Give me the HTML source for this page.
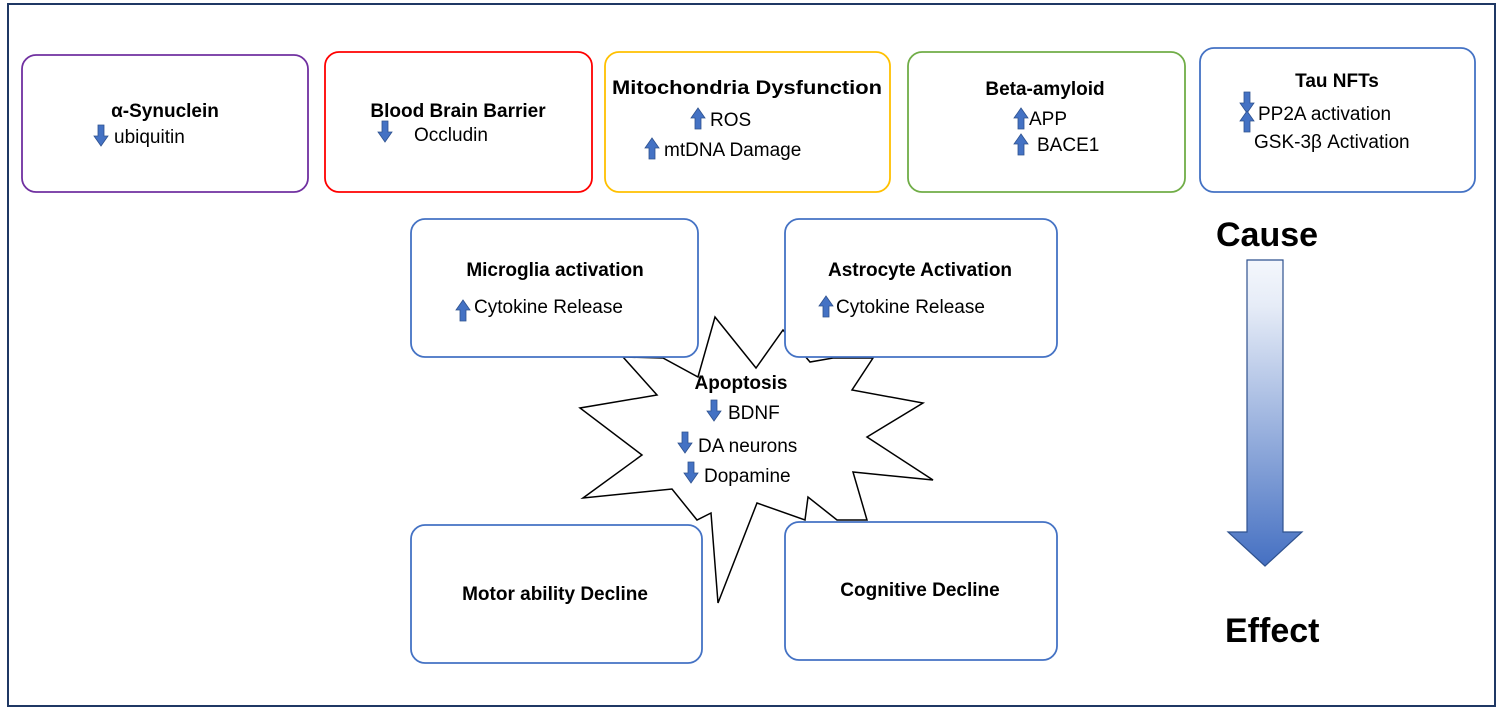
<!DOCTYPE html>
<html><head><meta charset="utf-8"><style>
html,body{margin:0;padding:0;background:#fff;}
svg{display:block;}
text{font-family:"Liberation Sans",sans-serif;fill:#000;}
.t{font-weight:bold;font-size:19px;}
.s{font-size:19px;}
</style></head><body>
<svg width="1500" height="712" viewBox="0 0 1500 712" xmlns="http://www.w3.org/2000/svg">
<defs>
<linearGradient id="ag" x1="0" y1="0" x2="0" y2="1">
<stop offset="0" stop-color="#f4f7fc"/><stop offset="0.15" stop-color="#e6ecf7"/><stop offset="1" stop-color="#4570c2"/>
</linearGradient>
<path id="dn" d="M-3,-11 h6 v11 h4 l-7,10 l-7,-10 h4 z" fill="#4472c4" stroke="#2f528f" stroke-width="0.8"/>
<path id="up" d="M-3,11 h6 v-11 h4 l-7,-10 l-7,10 h4 z" fill="#4472c4" stroke="#2f528f" stroke-width="0.8"/>
</defs>
<rect x="8" y="4" width="1487" height="702" fill="none" stroke="#1f3864" stroke-width="2"/>

<rect x="22" y="55" width="286" height="137" rx="14" fill="#fff" stroke="#7030a0" stroke-width="1.8"/>
<rect x="325" y="52" width="267" height="140" rx="14" fill="#fff" stroke="#ff0000" stroke-width="1.8"/>
<rect x="605" y="52" width="285" height="140" rx="14" fill="#fff" stroke="#ffc000" stroke-width="1.8"/>
<rect x="908" y="52" width="277" height="140" rx="14" fill="#fff" stroke="#70ad47" stroke-width="1.8"/>
<rect x="1200" y="48" width="275" height="144" rx="14" fill="#fff" stroke="#4472c4" stroke-width="1.8"/>

<text class="t" x="165" y="117" text-anchor="middle">α-Synuclein</text>
<use href="#dn" x="101" y="136"/>
<text class="s" x="114" y="143">ubiquitin</text>

<text class="t" x="458" y="117" text-anchor="middle">Blood Brain Barrier</text>
<use href="#dn" x="385" y="132"/>
<text class="s" x="414" y="141">Occludin</text>

<text class="t" x="747" y="94" text-anchor="middle" textLength="270" lengthAdjust="spacingAndGlyphs">Mitochondria Dysfunction</text>
<use href="#up" x="698" y="118"/>
<text class="s" x="710" y="126">ROS</text>
<use href="#up" x="652" y="148"/>
<text class="s" x="664" y="156">mtDNA Damage</text>

<text class="t" x="1045" y="95" text-anchor="middle">Beta-amyloid</text>
<use href="#up" x="1021" y="118"/>
<text class="s" x="1029" y="125">APP</text>
<use href="#up" x="1021" y="144"/>
<text class="s" x="1037" y="151">BACE1</text>

<text class="t" x="1337" y="87" text-anchor="middle">Tau NFTs</text>
<use href="#dn" x="1247" y="103"/>
<use href="#up" x="1247" y="121"/>
<text class="s" x="1258" y="120">PP2A activation</text>
<text class="s" x="1254" y="148">GSK-3β Activation</text>

<polygon fill="#fff" stroke="#000" stroke-width="1.5" points="715,317 756,368 783,330 810,362 833,358 873,358 852,390 923,403 867,437 933,480 853,472 867,520 837,520 808,497 805,520 757,503 718,603 711,513 697,520 672,489 583,498 642,455 580,408 657,395 623,357 663,358 698,377"/>

<rect x="411" y="219" width="287" height="138" rx="14" fill="#fff" stroke="#4472c4" stroke-width="1.8"/>
<rect x="785" y="219" width="272" height="138" rx="14" fill="#fff" stroke="#4472c4" stroke-width="1.8"/>
<rect x="411" y="525" width="291" height="138" rx="14" fill="#fff" stroke="#4472c4" stroke-width="1.8"/>
<rect x="785" y="522" width="272" height="138" rx="14" fill="#fff" stroke="#4472c4" stroke-width="1.8"/>

<text class="t" x="555" y="276" text-anchor="middle">Microglia activation</text>
<use href="#up" x="463" y="310"/>
<text class="s" x="474" y="313">Cytokine Release</text>

<text class="t" x="920" y="276" text-anchor="middle">Astrocyte Activation</text>
<use href="#up" x="826" y="306"/>
<text class="s" x="836" y="313">Cytokine Release</text>

<text class="t" x="741" y="389" text-anchor="middle">Apoptosis</text>
<use href="#dn" x="714" y="411"/>
<text class="s" x="728" y="419">BDNF</text>
<use href="#dn" x="685" y="443"/>
<text class="s" x="698" y="452">DA neurons</text>
<use href="#dn" x="691" y="473"/>
<text class="s" x="704" y="482">Dopamine</text>

<text class="t" x="555" y="600" text-anchor="middle">Motor ability Decline</text>
<text class="t" x="920" y="596" text-anchor="middle">Cognitive Decline</text>

<text x="1216" y="246" style="font-weight:bold;font-size:34px">Cause</text>
<path d="M1247,260 H1283 V532 H1302 L1265,566 L1228,532 H1247 Z" fill="url(#ag)" stroke="#2f528f" stroke-width="1.2"/>
<text x="1225" y="642" style="font-weight:bold;font-size:34px">Effect</text>
</svg>
</body></html>
